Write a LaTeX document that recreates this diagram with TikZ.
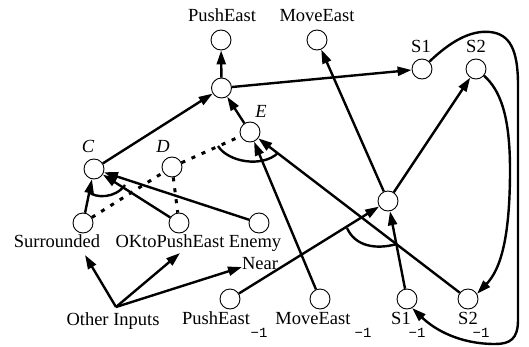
\documentclass[tikz,border=0pt]{standalone}
\usepackage{fontspec}
\setmainfont{Liberation Serif}
\newfontfamily\monof{Liberation Mono}
\usetikzlibrary{arrows.meta}
\begin{document}
\begin{tikzpicture}[x=1pt,y=1pt,
  unit/.style={circle,draw,fill=white,line width=0.9pt,minimum size=20pt,inner sep=0pt},
  lbl/.style={anchor=base,inner sep=0pt,font=\fontsize{18.5}{20}\selectfont},
  ilbl/.style={anchor=base,inner sep=0pt,font=\fontsize{18.5}{20}\selectfont\itshape},
  sub/.style={anchor=base,inner sep=0pt,font=\fontsize{14}{16}\selectfont\monof},
  link/.style={line width=2.4pt,-{Triangle[length=14pt,width=9pt]}},
  neg/.style={line width=3pt,dash pattern=on 4pt off 7pt},
  conj/.style={line width=2.4pt}]
\useasboundingbox (0,0) rectangle (529,346);

% units
\node[unit] (po)  at (221,306) {};
\node[unit] (mo)  at (317,306) {};
\node[unit] (s1o) at (422,277) {};
\node[unit] (s2o) at (476,277) {};
\node[unit] (h1)  at (221.5,258) {};
\node[unit] (E)   at (250,214) {};
\node[unit] (C)   at (94,177) {};
\node[unit] (D)   at (172,179) {};
\node[unit] (sur) at (83,123) {};
\node[unit] (ok)  at (179,123) {};
\node[unit] (en)  at (259,123) {};
\node[unit] (pm)  at (230,47) {};
\node[unit] (mm)  at (320,47) {};
\node[unit] (s1m) at (407,47) {};
\node[unit] (s2m) at (468,47) {};
\node[unit] (h2)  at (388,145) {};

% labels
\node[lbl] (tPo)  at (222,324) {PushEast};
\node[lbl] (tMo)  at (317,324) {MoveEast};
\node[lbl] (tS1o) at (421,293) {S1};
\node[lbl] (tS2o) at (476,293) {S2};
\node[ilbl] (tC) at (88,194) {C};
\node[ilbl] (tD) at (163,194) {D};
\node[ilbl] (tE) at (261,229) {E};
\node[lbl] (tSur) at (57,99) {Surrounded};
\node[lbl] (tOk)  at (170,99) {OKtoPushEast};
\node[lbl] (tEn)  at (255,99) {Enemy};
\node[lbl] (tNr)  at (260,77) {Near};
\node[lbl] (tOi)  at (113,21) {Other Inputs};
\node[lbl] (tPm)  at (216,22) {PushEast};
\node[sub] (sPm)  at (259,9) {−1};
\node[lbl] (tMm)  at (313,22) {MoveEast};
\node[sub] (sMm)  at (363,9) {−1};
\node[lbl] (tS1m) at (401,22) {S1};
\node[sub] (sS1m) at (417,9) {−1};
\node[lbl] (tS2m) at (468,22) {S2};
\node[sub] (sS2m) at (481,9) {−1};

% ends of the input arrows
\coordinate (oi) at (116,39);
\coordinate (surIn) at (85,91);
\coordinate (okIn) at (180,93);
\coordinate (nearIn) at (242,79);

% excitatory links
\draw[link] (h1) -- (po);
\draw[link] (h1) -- (s1o);
\draw[link] (C) -- (h1);
\draw[link] (E) -- (h1);
\draw[link] (sur) -- (C);
\draw[link] (ok) -- (C);
\draw[link] (en) -- (C);
\draw[link] (mm) -- (E);
\draw[link] (s2m) -- (E);
\draw[link] (pm) -- (h2);
\draw[link] (s1m) -- (h2);
\draw[link] (h2) -- (mo);
\draw[link] (h2) -- (s2o);
\draw[link] (oi) -- (surIn);
\draw[link] (oi) -- (okIn);
\draw[link] (oi) -- (nearIn);

% dotted links through D
\draw[neg] (sur) -- (D);
\draw[neg] (D) -- (E);
\draw[neg] (D) -- (ok);

% conjunction arcs
\draw[conj] (89,154) .. controls (95,148) and (115,147) .. (125,161);
\draw[conj] (218,200) .. controls (228,184) and (262,178) .. (278,193);
\draw[conj] (347,118) .. controls (355,100) and (375,96) .. (397,102);

% state feedback loops
\draw[link] (s1o.45) .. controls (450,304) and (470,316) .. (490,314)
  .. controls (510,312) and (518,296) .. (518,261) -- (518,26)
  .. controls (518,7) and (510,2) .. (495,2)
  .. controls (460,2) and (435,16) .. (s1m.-60);
\draw[link] (s2o.-40) .. controls (500,256) and (510,231) .. (510,176)
  .. controls (510,106) and (500,76) .. (s2m.30);
\end{tikzpicture}
\end{document}
